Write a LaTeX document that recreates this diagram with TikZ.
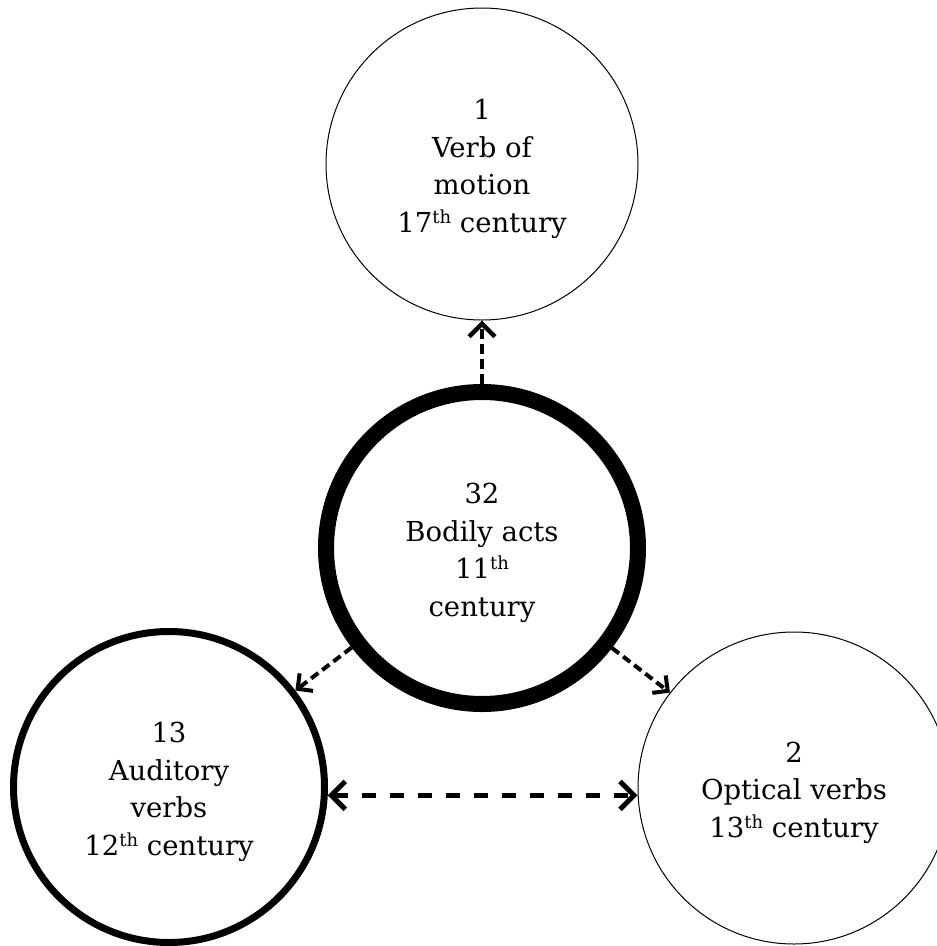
\documentclass[tikz,border=0pt]{standalone}
\usepackage{fontspec}
\setmainfont{DejaVu Serif}
\usetikzlibrary{arrows.meta}
\newcommand\ordsup[1]{\raisebox{9pt}{\fontsize{18}{18}\selectfont #1}}
\newcommand\toppad{\rule{0pt}{30pt}}
\begin{document}
\begin{tikzpicture}[x=1pt,y=-1pt,
  bubble/.style={circle, draw=black, fill=white, minimum size=312pt, inner sep=0pt, align=center,
    font=\fontsize{27.5}{37.5}\selectfont},
  thinring/.style={line width=1pt},
  link/.style={dash pattern=on 9pt off 5pt, line width=4pt, -{Straight Barb[length=11pt,width=22pt]}},
  uplink/.style={dash pattern=on 10pt off 5pt, line width=4.5pt, -{Straight Barb[length=13pt,width=26pt]}},
  bilink/.style={dash pattern=on 14pt off 14pt, line width=5pt,
    {Straight Barb[length=14pt,width=28pt]}-{Straight Barb[length=14pt,width=28pt]}}]
\clip (0,0) rectangle (937,946);
\fill[white] (0,0) rectangle (937,946);
\node[bubble, thinring] (t) at (482,164) {\toppad 1\\Verb of\\motion\\17\ordsup{th} century};
\node[bubble, line width=16pt] (c) at (482,548) {\toppad 32\\Bodily acts\\11\ordsup{th}\\century};
\node[bubble, line width=7pt, minimum size=311pt] (l) at (169,787) {\toppad 13\\Auditory\\verbs\\12\ordsup{th} century};
\node[bubble, thinring] (r) at (794,788) {\toppad 2\\Optical verbs\\13\ordsup{th} century};
\draw[uplink] (c) -- (t);
\draw[link] (c) -- (l);
\draw[link] (c) -- (r);
\path (l.-3.6) coordinate (hl);
\draw[bilink] (hl) -- (hl -| r.west);
\end{tikzpicture}
\end{document}
